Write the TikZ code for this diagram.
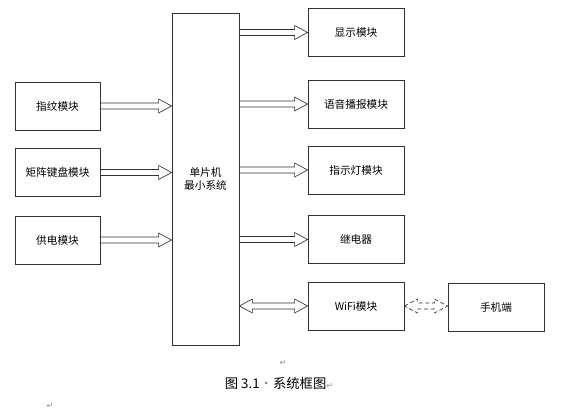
\documentclass[tikz,border=0pt]{standalone}
\usepackage{fontspec}
\newfontfamily\cjk{Noto Sans CJK SC}
\newfontfamily\symb{DejaVu Sans}
\usepackage{tikz}
\usetikzlibrary{positioning,calc}

% hollow block arrows, one head / two heads
\newcommand{\hollowarr}[3][]{%
  \draw[blockarrow,#1] let \p1=#2, \p2=#3 in
    (\x1,\y1+2.25pt) -- (\x2-9.75pt,\y1+2.25pt) -- (\x2-9.75pt,\y1+5.25pt) -- (\x2,\y1)
    -- (\x2-9.75pt,\y1-5.25pt) -- (\x2-9.75pt,\y1-2.25pt) -- (\x1,\y1-2.25pt);}
\newcommand{\hollowdarr}[3][]{%
  \draw[blockarrow,#1] let \p1=#2, \p2=#3 in
    (\x1,\y1) -- (\x1+9.75pt,\y1+5.25pt) -- (\x1+9.75pt,\y1+2.25pt) -- (\x2-9.75pt,\y1+2.25pt)
    -- (\x2-9.75pt,\y1+5.25pt) -- (\x2,\y1) -- (\x2-9.75pt,\y1-5.25pt) -- (\x2-9.75pt,\y1-2.25pt)
    -- (\x1+9.75pt,\y1-2.25pt) -- (\x1+9.75pt,\y1-5.25pt) -- cycle;}

\begin{document}
\begin{tikzpicture}[x=0.75pt,y=-0.75pt,
    box/.style={rectangle,draw=black!80,line width=0.6pt,minimum height=36pt,
      inner sep=1pt,font=\cjk\fontsize{8}{10}\selectfont},
    inbox/.style={box,minimum width=63.75pt},
    outbox/.style={box,minimum width=72pt},
    blockarrow/.style={draw=black!80,line width=0.5pt,line join=miter},
    pmark/.style={font=\symb\fontsize{6}{6}\selectfont,text=black!45}]
\useasboundingbox (0,0) rectangle (572,413);

% MCU
\node[box,minimum width=50.25pt,minimum height=249pt,align=center] (mcu) at (205.5,179)
  {单片机\\最小系统};

% Inputs
\node[inbox] (finger) at (57.5,106) {指纹模块};
\node[inbox] (keypad) at (57.5,172.5) {矩阵键盘模块};
\node[inbox] (power) at (57.5,240) {供电模块};

% Outputs
\node[outbox] (disp) at (356,32.5) {显示模块};
\node[outbox] (voice) at (356,104) {语音播报模块};
\node[outbox] (led) at (356,170) {指示灯模块};
\node[outbox] (relay) at (356,239.5) {继电器};
\node[outbox] (wifi) at (356,306) {WiFi模块};
\node[outbox] (phone) at (496,307.5) {手机端};

\hollowarr{(finger.east)}{(mcu.west |- finger.east)}
\hollowarr{(keypad.east)}{(mcu.west |- keypad.east)}
\hollowarr{(power.east)}{(mcu.west |- power.east)}

\hollowarr{(mcu.east |- disp.west)}{(disp.west)}
\hollowarr{(mcu.east |- voice.west)}{(voice.west)}
\hollowarr{(mcu.east |- led.west)}{(led.west)}
\hollowarr{(mcu.east |- relay.west)}{(relay.west)}
\hollowdarr{(mcu.east |- wifi.west)}{(wifi.west)}
\hollowdarr[dash pattern=on 3pt off 2pt]{(wifi.east)}{(wifi.east -| phone.west)}

% Caption
\node[pmark] (m1) at (283,363) {↵};
\node[font=\cjk\fontsize{10}{12}\selectfont] (cap) at (279,383)
  {图 3.1\textcolor{black!45}{·}系统框图\textcolor{black!45}{\symb\fontsize{6}{6}\selectfont ↵}};
\node[pmark] (m2) at (50,406) {↵};

\end{tikzpicture}
\end{document}
